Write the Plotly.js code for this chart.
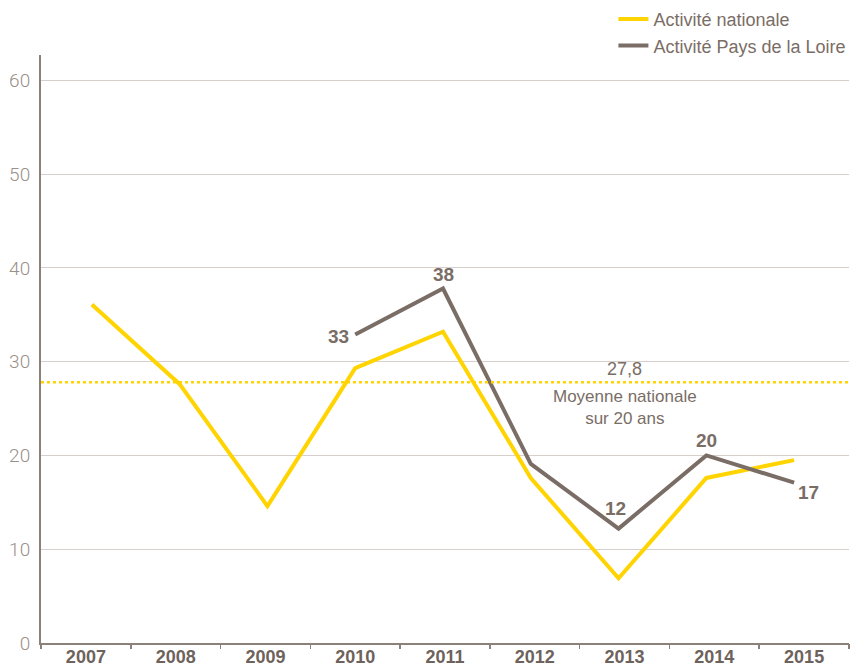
<!DOCTYPE html>
<html>
<head>
<meta charset="utf-8">
<script src="https://cdn.plot.ly/plotly-3.0.1.min.js"></script>
<style>html,body{margin:0;padding:0;background:#fff;}#chart{width:852px;height:667px;}</style>
</head>
<body>
<div id="chart"></div>
<script>
const years = ['2007','2008','2009','2010','2011','2012','2013','2014','2015'];
const nationale = [36.1, 27.6, 14.6, 29.3, 33.2, 17.6, 6.9, 17.6, 19.5];
const paysLoire = [null, null, null, 32.9, 37.8, 19.1, 12.2, 20.0, 17.1];
const paysLabels = ['', '', '', '33', '38', '', '12', '20', '17'];
const moyenne = 27.8;
const moyenneLabel = '27,8';
const moyenneText = 'Moyenne nationale<br>sur 20 ans';
const yTicks = [0, 10, 20, 30, 40, 50, 60];

const idx = years.map((_, i) => i);
const YEL = '#FFD400', GRY = '#7A6D66';
const FONT = 'Liberation Sans, Arial, sans-serif';

// label placement styles (anchor, shifts) per point index
const labelStyle = {
  3: {xanchor: 'right', yanchor: 'middle', xshift: -4, yshift: -2},
  4: {xanchor: 'center', yanchor: 'bottom', xshift: 0, yshift: 2},
  6: {xanchor: 'center', yanchor: 'bottom', xshift: -3, yshift: 8},
  7: {xanchor: 'center', yanchor: 'bottom', xshift: 0, yshift: 2},
  8: {xanchor: 'left', yanchor: 'top', xshift: 2, yshift: 3}
};

const traces = [
  {x: idx, y: nationale, name: 'Activité nationale', mode: 'lines', line: {color: YEL, width: 4}, hoverinfo: 'skip'},
  {x: idx, y: paysLoire, name: 'Activité Pays de la Loire', mode: 'lines', line: {color: GRY, width: 4}, hoverinfo: 'skip'},
  {x: [0], y: [null], xaxis: 'x2', showlegend: false, hoverinfo: 'skip', mode: 'markers'},
  {x: [0], y: [null], xaxis: 'x3', showlegend: false, hoverinfo: 'skip', mode: 'markers'}
];

const annotations = [];
paysLabels.forEach((t, i) => {
  if (!t) return;
  const s = labelStyle[i] || {xanchor: 'center', yanchor: 'bottom', xshift: 0, yshift: 2};
  annotations.push(Object.assign({xref: 'x', yref: 'y', x: idx[i], y: paysLoire[i], text: t, showarrow: false,
    font: {family: FONT, size: 19, color: GRY, weight: 700}}, s));
});
annotations.push({xref: 'x2', x: 6.0, yref: 'y', y: moyenne, yanchor: 'bottom', yshift: 1, text: moyenneLabel, showarrow: false,
  font: {family: FONT, size: 18, color: GRY}});
annotations.push({xref: 'x2', x: 6.0, yref: 'y', y: moyenne, yanchor: 'top', yshift: -4, text: moyenneText, showarrow: false,
  borderpad: 0, font: {family: FONT, size: 17, color: GRY}});

const layout = {
  width: 852, height: 667,
  margin: {l: 41, r: 1, t: 52, b: 24},
  paper_bgcolor: '#fff', plot_bgcolor: '#fff',
  showlegend: true,
  legend: {x: 1.003, xanchor: 'right', y: 1.092, yanchor: 'top', bgcolor: 'rgba(0,0,0,0)',
    font: {family: FONT, size: 18, color: GRY}, tracegroupgap: 0, itemwidth: 30},
  xaxis: {type: 'linear', range: [-0.5795, 8.625], showticklabels: false, ticks: '', showgrid: false, zeroline: false,
    showline: true, linecolor: '#8C807A', linewidth: 2, fixedrange: true},
  xaxis2: {type: 'linear', overlaying: 'x', anchor: 'y', side: 'bottom', range: [-0.5, 8.5],
    tickvals: idx, ticktext: years, ticks: '', showgrid: false, zeroline: false, showline: false, ticklabelstandoff: 1,
    tickfont: {family: FONT, size: 18, color: '#6E625C', weight: 700}},
  xaxis3: {type: 'linear', overlaying: 'x', anchor: 'y', side: 'bottom', range: [-0.5, 8.5],
    tickvals: [-0.5,0.5,1.5,2.5,3.5,4.5,5.5,6.5,7.5,8.5], showticklabels: false, ticks: 'outside', ticklen: 5, tickwidth: 1.5,
    tickcolor: '#8C807A', showgrid: false, zeroline: false, showline: false},
  yaxis: {range: [0, 62.7], tickvals: yTicks, ticks: '', showgrid: true, gridcolor: '#D6CFCB', gridwidth: 1,
    zeroline: false, showline: true, linecolor: '#8C807A', linewidth: 2, ticklabelstandoff: 5,
    tickfont: {family: 'Roboto, Liberation Sans, sans-serif', size: 19, color: '#9A8F8A', weight: 300}, fixedrange: true},
  shapes: [
    {type: 'line', xref: 'paper', x0: 0, x1: 1, yref: 'y', y0: moyenne, y1: moyenne,
     line: {color: YEL, width: 2.5, dash: 'dot'}}
  ],
  annotations: annotations
};

Plotly.newPlot('chart', traces, layout, {displayModeBar: false, staticPlot: true});
</script>
</body>
</html>
